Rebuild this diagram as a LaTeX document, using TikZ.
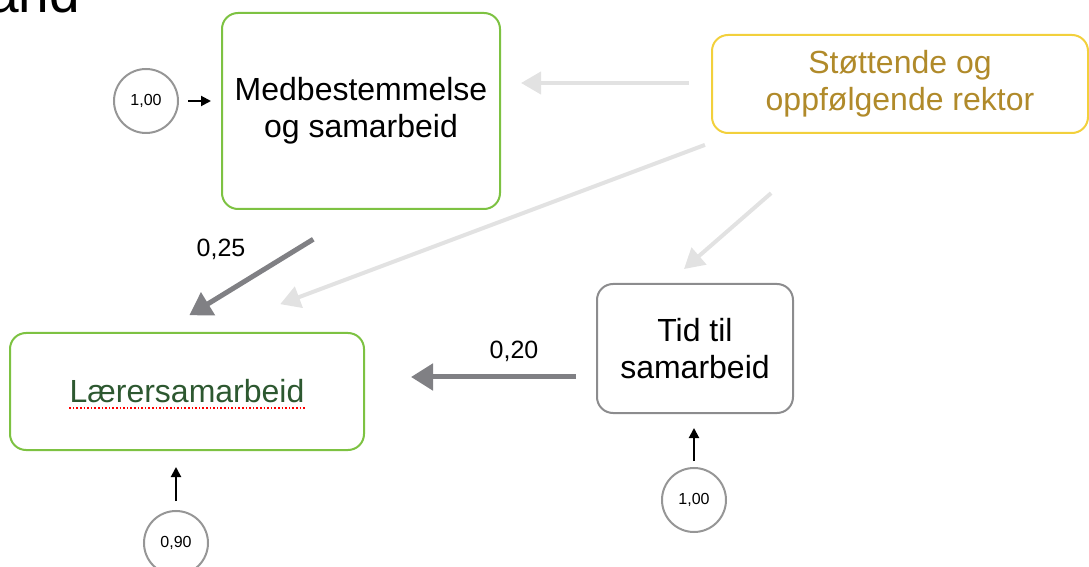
\documentclass[tikz,border=0pt]{standalone}
\usepackage{fontspec}
\setmainfont{Liberation Sans}
\usepackage{xcolor}
\usepackage{tikz}
\usetikzlibrary{arrows.meta,calc,positioning}
\definecolor{boxgreen}{RGB}{125,194,66}
\definecolor{boxyellow}{RGB}{242,208,60}
\definecolor{boxgray}{RGB}{140,140,142}
\definecolor{textgold}{RGB}{176,138,42}
\definecolor{textgreen}{RGB}{45,88,48}
\definecolor{arrowdark}{RGB}{128,128,132}
\definecolor{arrowlight}{RGB}{226,226,226}
\definecolor{circgray}{RGB}{150,150,150}

\begin{document}
\begin{tikzpicture}[x=0.5pt, y=-0.5pt,
  box/.style={draw, rectangle, rounded corners=8pt, line width=1pt, align=center, font=\fontsize{16}{18.5}\selectfont},
  score/.style={draw=circgray, circle, line width=1pt, minimum size=32pt, inner sep=0pt, font=\fontsize{8}{9}\selectfont},
  strong/.style={draw=arrowdark, line width=2.5pt, -{Triangle[length=11pt,width=13pt]}},
  weak/.style={draw=arrowlight, line width=2pt, -{Triangle[length=10pt,width=11pt]}},
  feed/.style={draw=black, line width=1pt, -{Triangle[length=5pt,width=5pt]}},
  coef/.style={font=\fontsize{12.5}{14}\selectfont},
  spell/.style={draw=red, densely dotted, line width=0.8pt}
]
  \useasboundingbox (0,0) rectangle (1089,567);

  % Heading fragment cut off at the top
  \node [anchor=base west, inner sep=0pt, font=\fontsize{27.5}{30}\selectfont] (heading) at (-12,13) {and};

  % Factors
  \node [box, draw=boxgreen, minimum width=139pt, minimum height=98pt] (med) at (361,111) {Medbestemmelse\\og samarbeid};
  \node [box, draw=boxyellow, text=textgold, minimum width=188pt, minimum height=49pt] (stot) at (900,84) {Støttende og\\oppfølgende rektor};
  \node [box, draw=boxgray, minimum width=98pt, minimum height=64.5pt] (tid) at (695,348.5) {Tid til\\samarbeid};
  \node [box, draw=boxgreen, minimum width=177pt, minimum height=58.5pt] (lar) at (187,391.5) {};
  \node [inner sep=0pt, text=textgreen, font=\fontsize{16}{18.5}\selectfont] (lartxt) at (lar.center) {Lærersamarbeid};
  \draw [spell] ([yshift=-2.5pt]lartxt.base west) -- ([yshift=-2.5pt]lartxt.base east);

  % Influence from the principal
  \draw [weak, shorten <=11pt, shorten >=10pt] ([yshift=0.5pt]stot.west) -- ([yshift=14pt]med.east);
  \draw [weak, shorten <=15.5pt, shorten >=39.6pt] ([xshift=11.5pt]stot.south west) -- ([xshift=9.5pt]lar.north);
  \draw [weak, shorten <=45pt, shorten >=10.6pt] ([xshift=-30.5pt]stot.south) -- ([xshift=-13.5pt]tid.north);

  % Paths into Lærersamarbeid
  \draw [strong, shorten <=28pt, shorten >=16pt] (med.south) -- ($(lar.north west)!0.43!(lar.north east)$);
  \node [coef] (c1) at (221,249) {0,25};
  \draw [strong, shorten <=10pt, shorten >=23pt] ([yshift=-14.25pt]tid.west) -- ([yshift=7.25pt]lar.east);
  \node [coef] (c2) at (514,351) {0,20};

  % Error terms
  \node [score] (e1) at (146,101) {1,00};
  \node [score] (e2) at (176,543) {0,90};
  \node [score] (e3) at (694,500) {1,00};
  \draw [feed, shorten <=4.5pt, shorten >=5pt] (e1.east) -- (e1.east -| med.west);
  \draw [feed, shorten <=4.5pt, shorten >=8pt] (e2.north) -- (e2.north |- lar.south);
  \draw [feed, shorten <=3pt, shorten >=7pt] (e3.north) -- (e3.north |- tid.south);

\end{tikzpicture}
\end{document}
